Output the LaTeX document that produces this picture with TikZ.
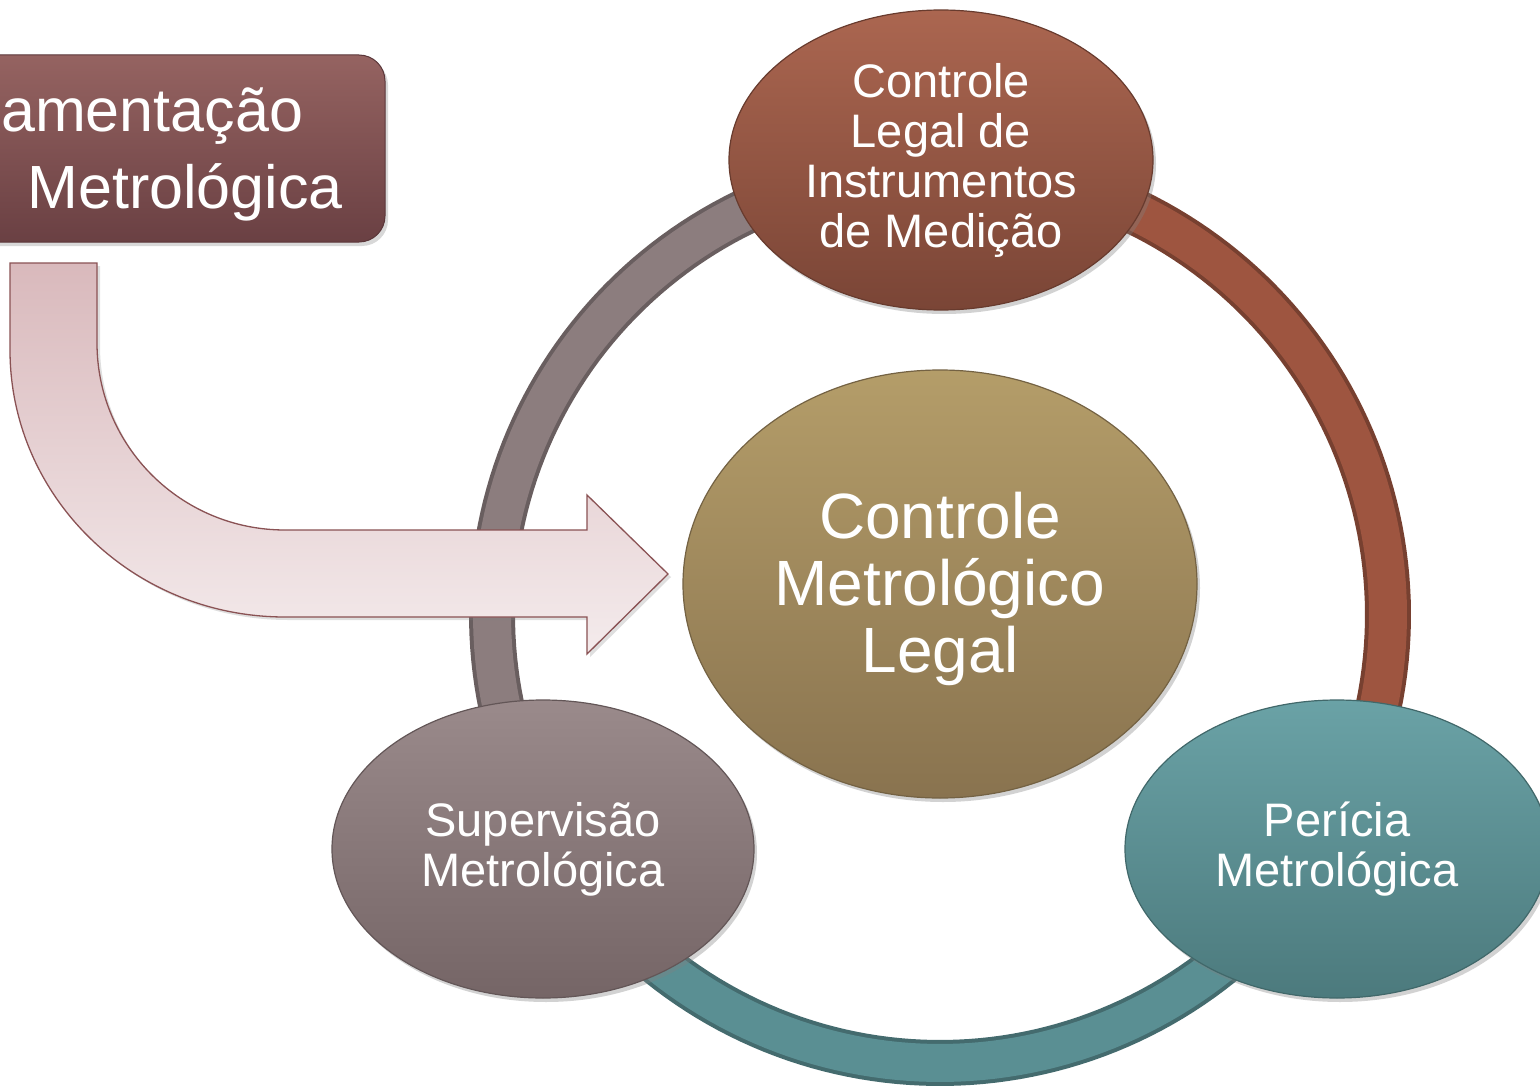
\documentclass[tikz,border=0pt]{standalone}
\usepackage{fontspec}
\setmainfont{Liberation Sans}
\usetikzlibrary{shapes.geometric,shadows}
\definecolor{ringgrey}{HTML}{8C7D7E}
\definecolor{ringred}{HTML}{9E5540}
\definecolor{ringteal}{HTML}{5A8F93}
\definecolor{topA}{HTML}{AB6650}
\definecolor{topB}{HTML}{7A4536}
\definecolor{midA}{HTML}{B49D69}
\definecolor{midB}{HTML}{89734F}
\definecolor{supA}{HTML}{9A8A8B}
\definecolor{supB}{HTML}{756566}
\definecolor{perA}{HTML}{6AA2A6}
\definecolor{perB}{HTML}{4C7A7D}
\definecolor{boxA}{HTML}{956361}
\definecolor{boxB}{HTML}{6A4043}
\definecolor{arrA}{HTML}{D9B9BC}
\definecolor{arrB}{HTML}{F4EBEC}
\definecolor{arrline}{HTML}{8A5254}
\begin{document}
\begin{tikzpicture}[x=1pt,y=-1pt,
  blob/.style={ellipse, inner sep=0pt, align=center, text=white,
    line width=1.2pt, drop shadow={opacity=0.35, shadow xshift=3pt, shadow yshift=-4pt}},
  smalltext/.style={font=\fontsize{47}{50}\selectfont},
  bigtext/.style={font=\fontsize{64}{67}\selectfont},
  boxtext/.style={text=white, font=\fontsize{61}{65}\selectfont, inner sep=0pt},
  ringbase/.style={line width=46pt},
  ringtop/.style={line width=38pt},
]
\useasboundingbox (0,0) rectangle (1540,1089);
\clip (0,0) rectangle (1540,1089);
\fill[white] (0,0) rectangle (1540,1089);

% ring
\draw[ringbase, ringgrey!75!black] plot[domain=150:270, samples=80] ({940+448*cos(\x)},{615+448*sin(\x)});
\draw[ringtop, ringgrey] plot[domain=150:270, samples=80] ({940+448*cos(\x)},{615+448*sin(\x)});
\draw[ringbase, ringred!75!black] plot[domain=270:390, samples=80] ({940+448*cos(\x)},{615+448*sin(\x)});
\draw[ringtop, ringred] plot[domain=270:390, samples=80] ({940+448*cos(\x)},{615+448*sin(\x)});
\draw[ringbase, ringteal!75!black] plot[domain=30:150, samples=80] ({940+448*cos(\x)},{615+448*sin(\x)});
\draw[ringtop, ringteal] plot[domain=30:150, samples=80] ({940+448*cos(\x)},{615+448*sin(\x)});

% left box
\node[rectangle, rounded corners=26pt, minimum width=420pt, minimum height=187pt,
  top color=boxA, bottom color=boxB, draw=boxB!85!black, line width=1pt,
  drop shadow={opacity=0.3, shadow xshift=3pt, shadow yshift=-4pt}] (box) at (175,148.5) {};
\node[boxtext, anchor=base west] (boxl1) at (1,132) {amentação};
\node[boxtext, anchor=base east] (boxl2) at (343,208) {Metrológica};

% bent arrow
\draw[arrline, line width=1.3pt, top color=arrA, bottom color=arrB,
  drop shadow={opacity=0.25, shadow xshift=3pt, shadow yshift=-3pt}]
  (10,263) -- (97,263) -- (97,343)
  .. controls (97,446) and (181,530) .. (285,530)
  -- (587,530) -- (587,495) -- (668,574) -- (587,654) -- (587,617) -- (285,617)
  .. controls (133,617) and (10,497) .. (10,350) -- cycle;

% ellipses
\node[blob, smalltext, minimum width=424pt, minimum height=300pt,
  top color=topA, bottom color=topB, draw=topB!85!black] (top) at (941,160)
  {Controle\\Legal de\\Instrumentos\\de Medição};
\node[blob, minimum width=514pt, minimum height=428pt,
  top color=midA, bottom color=midB, draw=midB!85!black] (mid) at (940,584) {};
\node[bigtext, align=center, text=white, inner sep=0pt] (midtext) at (940,589)
  {Controle\\Metrológico\\Legal};
\node[blob, smalltext, minimum width=422pt, minimum height=298pt,
  top color=supA, bottom color=supB, draw=supB!85!black] (sup) at (543,849)
  {Supervisão\\Metrológica};
\node[blob, smalltext, minimum width=424pt, minimum height=298pt,
  top color=perA, bottom color=perB, draw=perB!85!black] (per) at (1337,849)
  {Perícia\\Metrológica};
\end{tikzpicture}
\end{document}
